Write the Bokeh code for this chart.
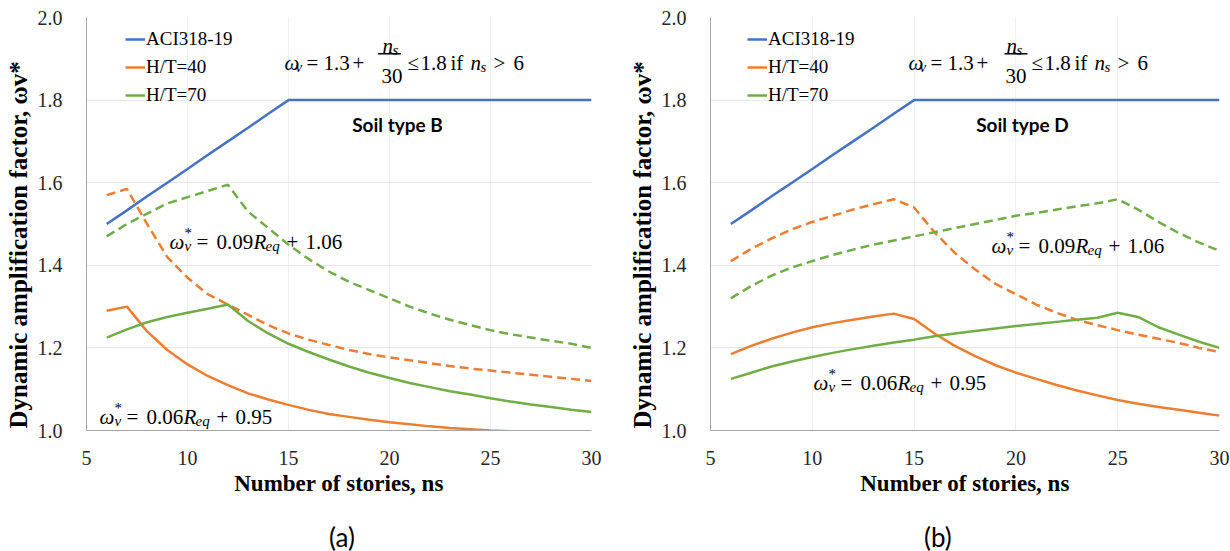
import math
from bokeh.plotting import figure
from bokeh.models import (Label, FixedTicker, NumeralTickFormatter, Range1d,
                          BoxAnnotation, Legend, LegendItem, Title, Div)
from bokeh.layouts import row, column
from bokeh.embed import file_html
from bokeh.resources import INLINE

# ---------------- data ----------------
stories = [6, 7, 8, 9, 10, 11, 12, 13, 14, 15, 16, 17, 18, 19, 20,
           21, 22, 23, 24, 25, 26, 27, 28, 29, 30]

aci318 = [1.500, 1.533, 1.567, 1.600, 1.633, 1.667, 1.700, 1.733, 1.767, 1.800,
          1.800, 1.800, 1.800, 1.800, 1.800, 1.800, 1.800, 1.800, 1.800, 1.800,
          1.800, 1.800, 1.800, 1.800, 1.800]

# Soil type B (a)
b_ht40_solid = [1.290, 1.300, 1.240, 1.195, 1.160, 1.132, 1.110, 1.090, 1.075, 1.062,
                1.050, 1.040, 1.033, 1.026, 1.020, 1.015, 1.010, 1.006, 1.003, 1.000,
                0.998, 0.995, 0.993, 0.990, 0.988]
b_ht40_dash = [1.570, 1.585, 1.500, 1.420, 1.370, 1.330, 1.305, 1.280, 1.255, 1.235,
               1.220, 1.207, 1.195, 1.185, 1.177, 1.170, 1.163, 1.156, 1.150, 1.145,
               1.140, 1.135, 1.130, 1.125, 1.120]
b_ht70_solid = [1.225, 1.245, 1.262, 1.275, 1.285, 1.295, 1.305, 1.265, 1.235, 1.210,
                1.190, 1.172, 1.155, 1.140, 1.127, 1.115, 1.105, 1.095, 1.087, 1.078,
                1.070, 1.063, 1.057, 1.050, 1.045]
b_ht70_dash = [1.470, 1.500, 1.525, 1.550, 1.565, 1.580, 1.595, 1.530, 1.490, 1.450,
               1.415, 1.385, 1.360, 1.340, 1.320, 1.300, 1.283, 1.268, 1.255, 1.243,
               1.233, 1.225, 1.217, 1.210, 1.200]

# Soil type D (b)
d_ht40_solid = [1.185, 1.205, 1.222, 1.237, 1.250, 1.260, 1.268, 1.276, 1.283, 1.270,
                1.235, 1.205, 1.180, 1.158, 1.140, 1.125, 1.110, 1.097, 1.085, 1.074,
                1.065, 1.057, 1.050, 1.043, 1.036]
d_ht40_dash = [1.410, 1.440, 1.465, 1.487, 1.505, 1.520, 1.535, 1.548, 1.560, 1.540,
               1.480, 1.430, 1.390, 1.355, 1.330, 1.305, 1.285, 1.268, 1.255, 1.243,
               1.232, 1.222, 1.212, 1.200, 1.190]
d_ht70_solid = [1.125, 1.140, 1.155, 1.167, 1.178, 1.188, 1.197, 1.205, 1.213, 1.220,
                1.228, 1.235, 1.241, 1.247, 1.253, 1.258, 1.263, 1.268, 1.273, 1.285,
                1.275, 1.250, 1.232, 1.215, 1.200]
d_ht70_dash = [1.320, 1.350, 1.375, 1.395, 1.410, 1.425, 1.438, 1.450, 1.460, 1.470,
               1.480, 1.490, 1.500, 1.510, 1.520, 1.527, 1.535, 1.543, 1.550, 1.560,
               1.535, 1.505, 1.478, 1.455, 1.435]

series_labels = ["ACI318-19", "H/T=40", "H/T=70"]
x_ticks = [5, 10, 15, 20, 25, 30]
y_ticks = [1.0, 1.2, 1.4, 1.6, 1.8, 2.0]
x_title = "Number of stories, ns"
y_title = "Dynamic amplification factor,  ωv*"
captions = ["(a)", "(b)"]

# ---------------- style ----------------
BLUE, ORANGE, GREEN = "#4472C4", "#ED7D31", "#70AD47"
SERIF = "Liberation Serif"
SANS = "Lato"
W, H = 615, 505
CAP_H = 46
TOP, BOTTOM = 17, 430
DASH = "9 5"


def make_panel(left, right, ht40s, ht40d, ht70s, ht70d, soil,
               eq_x0, eqa_pos, eqb_pos, soil_x):
    p = figure(width=W, height=H, x_range=Range1d(5, 30), y_range=Range1d(1.0, 2.0),
               output_backend="svg", toolbar_location=None,
               min_border_left=left, min_border_right=W - right,
               min_border_top=TOP, min_border_bottom=H - BOTTOM)
    p.outline_line_color = None
    p.background_fill_color = "white"

    def X(px):
        return 5 + (px - left) / (right - left) * 25

    def Y(py):
        return 1.0 + (BOTTOM - py) / (BOTTOM - TOP)

    def put(px, py, text, size=20, style="normal", font=SERIF, align="left",
            baseline="alphabetic", angle=0, color="black"):
        # screen units measured from the frame's bottom-left corner
        p.add_layout(Label(x=px - left, y=BOTTOM - py, x_units="screen", y_units="screen",
                           text=text, text_font=font,
                           text_font_size=f"{size}px", text_font_style=style,
                           text_align=align, text_baseline=baseline, angle=angle,
                           text_color=color))

    # axes
    p.axis.axis_line_color = "#A6A6A6"
    p.axis.axis_line_width = 1
    p.axis.major_tick_line_color = None
    p.axis.minor_tick_line_color = None
    p.axis.major_label_text_font = SERIF
    p.axis.major_label_text_font_size = "20px"
    p.axis.major_label_text_color = "#262626"
    p.xaxis.ticker = FixedTicker(ticks=x_ticks)
    p.yaxis.ticker = FixedTicker(ticks=y_ticks)
    p.yaxis.formatter = NumeralTickFormatter(format="0.0")
    p.yaxis.major_label_standoff = 18
    p.xaxis.major_label_standoff = 14
    p.xgrid.ticker = FixedTicker(ticks=[10, 15, 20, 25])
    p.ygrid.ticker = FixedTicker(ticks=[1.2, 1.4, 1.6, 1.8, 2.0])
    p.xgrid.grid_line_color = "#F0F0F0"
    p.ygrid.grid_line_color = "#E6E6E6"

    # titles outside the frame
    p.add_layout(Title(text=y_title, align="left", offset=2, standoff=5,
                       text_font=SERIF, text_font_size="25px",
                       text_font_style="bold", text_color="black"), "left")
    p.add_layout(Title(text=x_title, align="center", standoff=3,
                       text_font=SERIF, text_font_size="23px",
                       text_font_style="bold", text_color="black"), "below")

    # lines
    r_aci = p.line(stories, aci318, line_color=BLUE, line_width=2.5)
    p.line(stories, ht40d, line_color=ORANGE, line_width=2.5, line_dash=DASH)
    p.line(stories, ht70d, line_color=GREEN, line_width=2.5, line_dash=DASH)
    r_40 = p.line(stories, ht40s, line_color=ORANGE, line_width=2.5)
    r_70 = p.line(stories, ht70s, line_color=GREEN, line_width=2.5)

    legend = Legend(items=[LegendItem(label=series_labels[0], renderers=[r_aci]),
                           LegendItem(label=series_labels[1], renderers=[r_40]),
                           LegendItem(label=series_labels[2], renderers=[r_70])],
                    location=(39 + (0 if left == 82 else -2), 321))
    legend.label_text_font = SERIF
    legend.label_text_font_size = "19px"
    legend.label_text_color = "black"
    legend.glyph_width = 20
    legend.glyph_height = 28
    legend.label_height = 28
    legend.label_standoff = 1
    legend.padding = 0
    legend.spacing = 0
    legend.margin = 0
    legend.border_line_color = None
    legend.background_fill_alpha = 0
    p.add_layout(legend)

    # equation: omega_v = 1.3 + n_s/30 <= 1.8 if n_s > 6
    x0, yb = eq_x0, 62
    put(x0 + 0, yb, "ω", 21, "italic")
    put(x0 + 11, yb + 4, "v", 15, "italic")
    put(x0 + 22, yb, "=", 21)
    put(x0 + 39, yb, "1.3", 21)
    put(x0 + 68, yb, "+", 21)
    put(x0 + 98, yb - 17, "n", 21, "italic")
    put(x0 + 108, yb - 13, "s", 15, "italic")
    put(x0 + 97, yb + 13, "30", 21)
    p.add_layout(BoxAnnotation(left=X(x0 + 96), right=X(x0 + 119),
                               top=Y(52.5), bottom=Y(54), fill_color="black",
                               fill_alpha=1, line_color=None))
    put(x0 + 123, yb, "≤", 21)
    put(x0 + 136, yb, "1.8", 21)
    put(x0 + 166, yb, "if", 21)
    put(x0 + 186, yb, "n", 21, "italic")
    put(x0 + 196, yb + 4, "s", 15, "italic")
    put(x0 + 209, yb, ">", 21)
    put(x0 + 229, yb, "6", 21)

    # fitted equations
    def omega_eq(xs, yb2, coef, const):
        put(xs + 0, yb2, "ω", 21, "italic")
        put(xs + 15, yb2 - 9, "*", 15)
        put(xs + 15, yb2 + 4, "v", 15, "italic")
        put(xs + 27, yb2, "=", 21)
        put(xs + 47, yb2, coef, 21)
        put(xs + 84, yb2, "R", 21, "italic")
        put(xs + 96, yb2 + 4, "eq", 15, "italic")
        put(xs + 117, yb2, "+", 21)
        put(xs + 136, yb2, const, 21)

    omega_eq(eqa_pos[0], eqa_pos[1], "0.09", "1.06")
    omega_eq(eqb_pos[0], eqb_pos[1], "0.06", "0.95")

    put(soil_x, 124, soil, 19, "bold", SANS, "center", "middle")
    return p


def caption_div(text, pad_left):
    html = (f'<div style="padding-left:{pad_left}px; padding-top:16px; '
            f'line-height:32px; text-align:left; font-family:Lato, sans-serif; '
            f'font-size:26px; color:black; white-space:nowrap;">{text}</div>')
    return Div(text=html, width=W, height=CAP_H, margin=(0, 0, 0, 0))


pa = make_panel(82, 591, b_ht40_solid, b_ht40_dash, b_ht70_solid, b_ht70_dash,
                "Soil type B", 280, (165, 241), (95, 416), 393)
pb = make_panel(95, 604, d_ht40_solid, d_ht40_dash, d_ht70_solid, d_ht70_dash,
                "Soil type D", 293, (376, 245), (198, 382), 407)

layout = column(row(pa, pb), row(caption_div(captions[0], 329), caption_div(captions[1], 309)))
open("out.html", "w").write(file_html(layout, INLINE))
